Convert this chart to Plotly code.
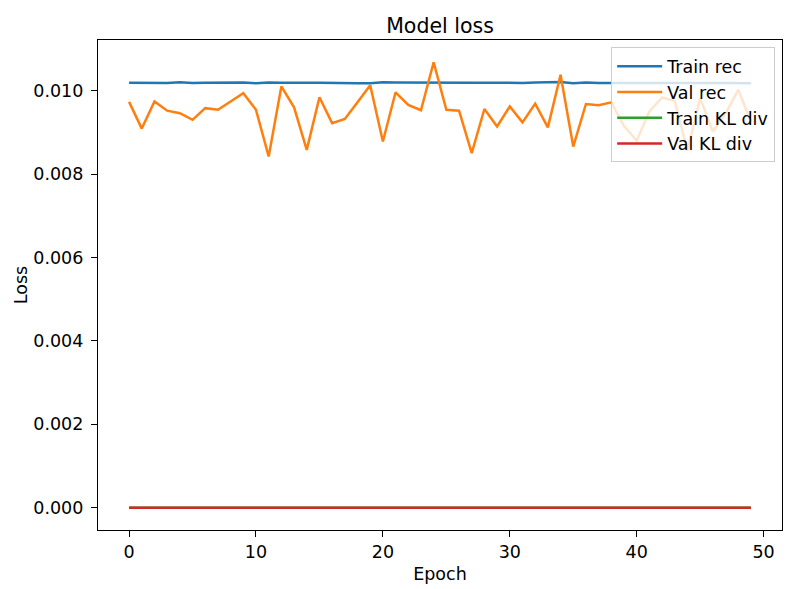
import plotly.graph_objects as go

epochs = list(range(50))

train_rec = [0.010190, 0.010185, 0.010184, 0.010186, 0.010200, 0.010183, 0.010188, 0.010192, 0.010178, 0.010195,
             0.010176, 0.010196, 0.010188, 0.010182, 0.010190, 0.010192, 0.010182, 0.010176, 0.010180, 0.010180,
             0.010200, 0.010198, 0.010194, 0.010188, 0.010184, 0.010183, 0.010186, 0.010190, 0.010192, 0.010188,
             0.010190, 0.010184, 0.010195, 0.010200, 0.010205, 0.010178, 0.010195, 0.010183, 0.010185, 0.010186,
             0.010188, 0.010186, 0.010190, 0.010185, 0.010188, 0.010190, 0.010186, 0.010184, 0.010182, 0.010180]

val_rec = [0.00973, 0.00909, 0.00974, 0.00952, 0.00946, 0.00930, 0.00958, 0.00954, 0.00974, 0.00994,
           0.00954, 0.00842, 0.01010, 0.00960, 0.00858, 0.00984, 0.00922, 0.00932, 0.00972, 0.01013,
           0.00878, 0.00996, 0.00966, 0.00953, 0.01068, 0.00954, 0.00952, 0.00850, 0.00956, 0.00914,
           0.00962, 0.00924, 0.00969, 0.00912, 0.01038, 0.00866, 0.00968, 0.00965, 0.00972, 0.00915,
           0.00880, 0.00950, 0.00984, 0.00975, 0.00856, 0.00982, 0.00902, 0.00945, 0.01002, 0.00926]

train_kl = [0.000002, 0.000002, 0.000002, 0.000002, 0.000002, 0.000002, 0.000002, 0.000002, 0.000002, 0.000002,
            0.000002, 0.000002, 0.000002, 0.000002, 0.000002, 0.000002, 0.000002, 0.000002, 0.000002, 0.000002,
            0.000002, 0.000002, 0.000002, 0.000002, 0.000002, 0.000002, 0.000002, 0.000002, 0.000002, 0.000002,
            0.000002, 0.000002, 0.000002, 0.000002, 0.000002, 0.000002, 0.000002, 0.000002, 0.000002, 0.000002,
            0.000002, 0.000002, 0.000002, 0.000002, 0.000002, 0.000002, 0.000002, 0.000002, 0.000002, 0.000002]

val_kl = [0.000002, 0.000002, 0.000002, 0.000002, 0.000002, 0.000002, 0.000002, 0.000002, 0.000002, 0.000002,
          0.000002, 0.000002, 0.000002, 0.000002, 0.000002, 0.000002, 0.000002, 0.000002, 0.000002, 0.000002,
          0.000002, 0.000002, 0.000002, 0.000002, 0.000002, 0.000002, 0.000002, 0.000002, 0.000002, 0.000002,
          0.000002, 0.000002, 0.000002, 0.000002, 0.000002, 0.000002, 0.000002, 0.000002, 0.000002, 0.000002,
          0.000002, 0.000002, 0.000002, 0.000002, 0.000002, 0.000002, 0.000002, 0.000002, 0.000002, 0.000002]

series_names = ["Train rec", "Val rec", "Train KL div", "Val KL div"]
series_colors = ["#1f77b4", "#ff7f0e", "#2ca02c", "#d62728"]
x_ticks = [0, 10, 20, 30, 40, 50]
y_ticks = [0.000, 0.002, 0.004, 0.006, 0.008, 0.010]

FONT = "DejaVu Sans"
FS = 17.5

# page body has an ~8px margin, so the figure is made slightly smaller and shifted
W, H = 785, 581
ML, MT = 90, 32
PW, PH = 684, 490

fig = go.Figure()
for name, ys, col in zip(series_names, [train_rec, val_rec, train_kl, val_kl], series_colors):
    fig.add_trace(go.Scatter(x=epochs, y=ys, mode="lines", name=name,
                             line=dict(color=col, width=2.5)))

ymax = max(max(train_rec), max(val_rec))
ymin = 0.0
pad = (ymax - ymin) * 0.05

axis_common = dict(showline=True, linecolor="black", linewidth=1.2, mirror=True,
                   ticks="outside", ticklen=6, tickwidth=1.2, tickcolor="black",
                   showgrid=False, zeroline=False, automargin=False,
                   tickfont=dict(family=FONT, size=FS, color="black"))

fig.update_layout(
    width=W, height=H,
    margin=dict(l=ML, r=W - ML - PW, t=MT, b=H - MT - PH),
    paper_bgcolor="white", plot_bgcolor="white",
    font=dict(family=FONT, color="black"),
    title=dict(text="Model loss", x=(ML + PW / 2) / W, xanchor="center",
               y=1 - 18 / H, yanchor="middle", automargin=False,
               font=dict(family=FONT, size=20.5, color="black")),
    xaxis=dict(range=[-2.45, 51.45], tickvals=x_ticks, ticklabelstandoff=0,
               title=dict(text="Epoch", font=dict(family=FONT, size=FS), standoff=6),
               **axis_common),
    yaxis=dict(range=[ymin - pad, ymax + pad], tickvals=y_ticks, tickformat=".3f",
               ticklabelstandoff=4,
               title=dict(text="Loss", font=dict(family=FONT, size=FS), standoff=1),
               **axis_common),
    legend=dict(x=0.99, y=0.985, xanchor="right", yanchor="top",
                bgcolor="rgba(255,255,255,0.8)", bordercolor="#cccccc", borderwidth=1,
                font=dict(family=FONT, size=FS, color="black"),
                itemwidth=45, tracegroupgap=0),
    showlegend=True,
)

fig.write_html("out.html")
